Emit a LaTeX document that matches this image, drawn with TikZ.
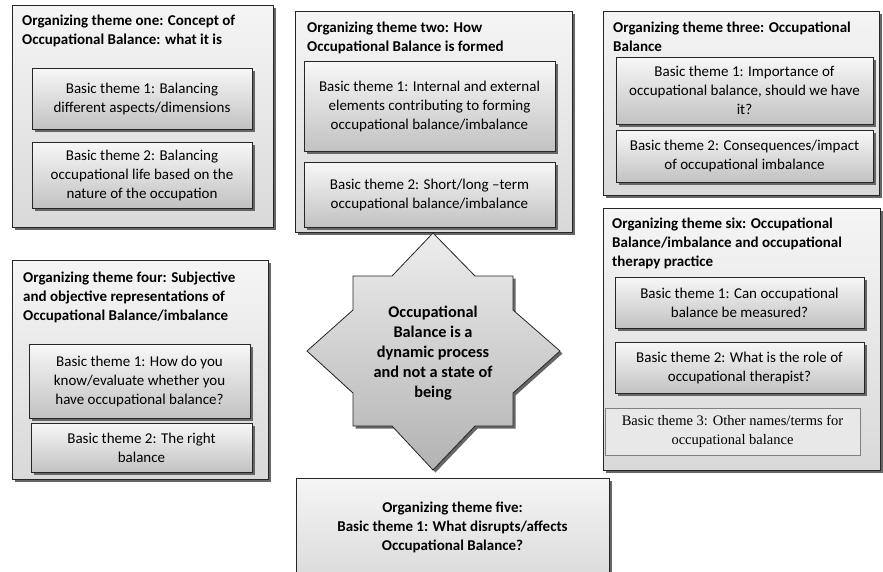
\documentclass[tikz,border=0pt]{standalone}
\usepackage{fontspec}
\setmainfont{Carlito}
\newfontfamily\timesfont{Liberation Serif}
\usetikzlibrary{%
	calc,%
	shadows%
}

\begin{document}
\begin{tikzpicture}[x=1pt,y=-1pt,
	font=\fontsize{15}{19}\selectfont,
	boxshadow/.style={drop shadow={shadow xshift=2.5pt,shadow yshift=-2.5pt,fill=black!60,opacity=1}},
	outerbox/.style={boxshadow,draw=black!85,line width=0.8pt,top color=black!4,bottom color=black!15,anchor=north west,inner sep=0pt},
	basicbox/.style={boxshadow,draw=black!85,line width=0.8pt,top color=black!3,bottom color=black!24,align=center,inner sep=0pt},
	plainbox/.style={draw=black!50,line width=0.6pt,fill=black!9,text=black,align=center,inner sep=0pt,font=\timesfont\fontsize{14.5}{19}\selectfont},
	themetitle/.style={anchor=north west,align=left,inner sep=0pt,font=\bfseries\fontsize{15}{19}\selectfont},
	boldtext/.style={align=center,inner sep=0pt,font=\bfseries\fontsize{16.3}{20}\selectfont},
	arrowstar/.style={boxshadow,draw=black!85,line width=0.8pt,top color=black!7,bottom color=black!30,line join=miter}
	]
	\useasboundingbox (0,0) rectangle (883,571);
	\clip (0,0) rectangle (883,571);
	
	% Organizing themes
	\node[outerbox,minimum width=261pt,minimum height=222pt] (one) at (12,5) {};
	\node[outerbox,minimum width=277pt,minimum height=221pt] (two) at (295,11) {};
	\node[outerbox,minimum width=276pt,minimum height=184pt] (three) at (603,11) {};
	\node[outerbox,minimum width=256pt,minimum height=219pt] (four) at (12,260) {};
	\node[outerbox,minimum width=313pt,minimum height=110pt] (five) at (296,478) {};
	\node[outerbox,minimum width=277pt,minimum height=262pt] (six) at (603,208) {};
	
	% Titles
	\node[themetitle] (onetitle) at (22,15) {Organizing theme one: Concept of\\Occupational Balance: what it is};
	\node[themetitle] (twotitle) at (307,22) {Organizing theme two: How\\Occupational Balance is formed};
	\node[themetitle] (threetitle) at (613,22) {Organizing theme three: Occupational\\Balance};
	\node[themetitle] (fourtitle) at (23,272) {Organizing theme four: Subjective\\and objective representations of\\Occupational Balance/imbalance};
	\node[themetitle] (sixtitle) at (612,218) {Organizing theme six: Occupational\\Balance/imbalance and occupational\\therapy practice};
	\node[boldtext,font=\bfseries\fontsize{15}{19}\selectfont] (fivetext) at (452.5,527) {Organizing theme five:\\Basic theme 1: What disrupts/affects\\Occupational Balance?};
	
	% Basic themes
	\node[basicbox,minimum width=220pt,minimum height=61pt] (onea) at (142,98.5) {Basic theme 1: Balancing\\different aspects/dimensions};
	\node[basicbox,minimum width=220pt,minimum height=66pt] (oneb) at (142,175) {Basic theme 2: Balancing\\occupational life based on the\\nature of the occupation};
	\node[basicbox,minimum width=251pt,minimum height=90pt] (twoa) at (429.5,106) {Basic theme 1: Internal and external\\elements contributing to forming\\occupational balance/imbalance};
	\node[basicbox,minimum width=251pt,minimum height=65pt] (twob) at (429.5,194.5) {Basic theme 2: Short/long –term\\occupational balance/imbalance};
	\node[basicbox,minimum width=257pt,minimum height=67pt] (threea) at (744.5,90.5) {Basic theme 1: Importance of\\occupational balance, should we have\\it?};
	\node[basicbox,minimum width=257pt,minimum height=52pt] (threeb) at (744.5,156) {Basic theme 2: Consequences/impact\\of occupational imbalance};
	\node[basicbox,minimum width=221pt,minimum height=74pt] (foura) at (139.5,381) {Basic theme 1: How do you\\know/evaluate whether you\\have occupational balance?};
	\node[basicbox,minimum width=221pt,minimum height=49pt] (fourb) at (141.5,447.5) {Basic theme 2: The right\\balance};
	\node[basicbox,minimum width=249pt,minimum height=51pt] (sixa) at (739.5,302.5) {Basic theme 1: Can occupational\\balance be measured?};
	\node[basicbox,minimum width=249pt,minimum height=51pt] (sixb) at (739.5,367.5) {Basic theme 2: What is the role of\\occupational therapist?};
	\node[plainbox,minimum width=255pt,minimum height=47pt] (sixc) at (732.5,431.5) {Basic theme 3: Other names/terms for\\occupational balance};
	
	% Global theme
	\draw[arrowstar] (353,276) -- (392,276) -- (433,233) -- (475,276) -- (513,276) -- (513,310) -- (560,351)
		-- (513,393) -- (513,426) -- (475,426) -- (433,470) -- (392,426) -- (353,426) -- (353,393)
		-- (307,351) -- (353,310) -- cycle;
	\node[boldtext] (core) at (433,353) {Occupational\\Balance is a\\dynamic process\\and not a state of\\being};
\end{tikzpicture}
\end{document}
